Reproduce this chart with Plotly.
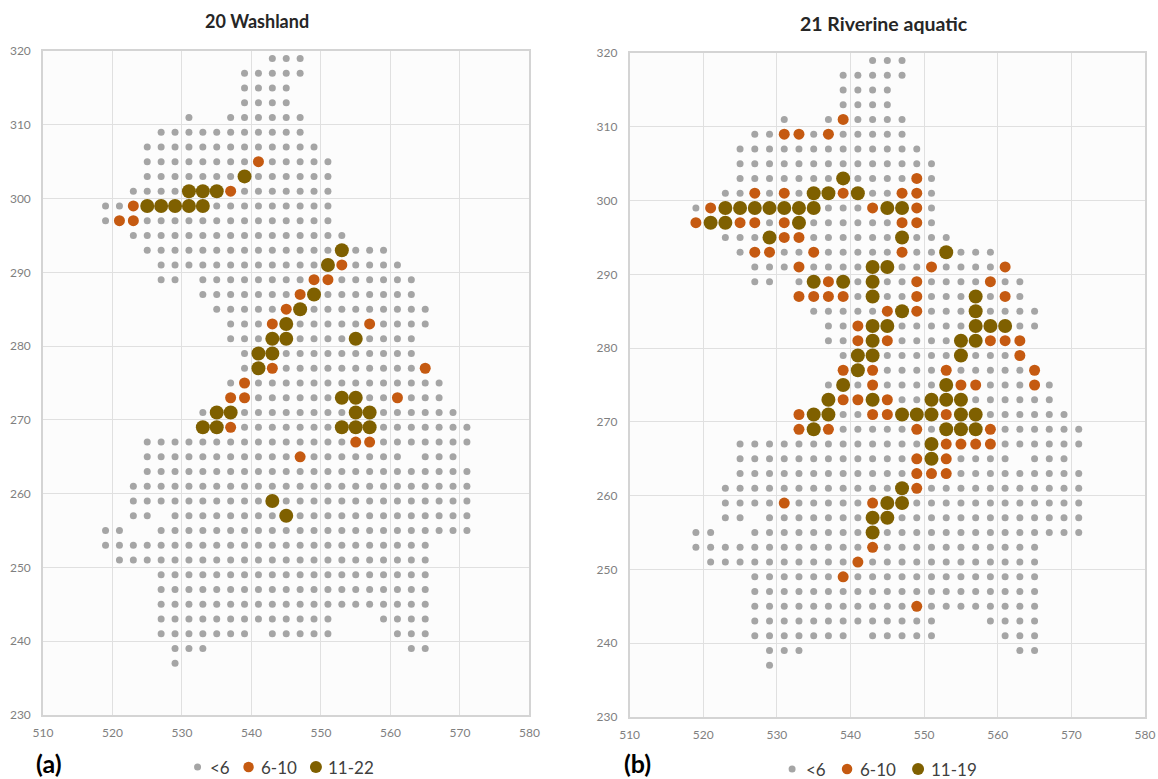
import plotly.graph_objects as go

W, H = 1158, 779

CELLS = {
319: [543,545,547],
317: [539,541,543,545,547],
315: [539,541,543,545],
313: [539,541,543,545],
311: [531,537,539,541,543,545,547],
309: [527,529,531,533,535,537,539,541,543,545,547],
307: [525,527,529,531,533,535,537,539,541,543,545,547,549],
305: [525,527,529,531,533,535,537,539,541,543,545,547,549,551],
303: [525,527,529,531,533,535,537,539,541,543,545,547,549,551],
301: [523,525,527,529,531,533,535,537,539,541,543,545,547,549,551],
299: [519,521,523,525,527,529,531,533,535,537,539,541,543,545,547,549,551],
297: [519,521,523,525,527,529,531,533,535,537,539,541,543,545,547,549,551],
295: [523,525,527,529,531,533,535,537,539,541,543,545,547,549,551,553],
293: [525,527,529,531,533,535,537,539,541,543,545,547,549,551,553,555,557,559],
291: [527,529,531,533,535,537,539,541,543,545,547,549,551,553,555,557,559,561],
289: [527,529,533,535,537,539,541,543,545,547,549,551,553,555,557,559,561,563],
287: [533,535,537,539,541,543,545,547,549,551,553,555,557,559,561,563],
285: [535,537,539,541,543,545,547,549,551,553,555,557,559,561,563,565],
283: [537,539,541,543,545,547,549,551,553,555,557,559,561,563,565],
281: [537,539,541,543,545,547,549,551,553,555,557,559,561,563],
279: [539,541,543,545,547,549,551,553,555,557,559,561,563],
277: [539,541,543,545,547,549,551,553,555,557,559,561,563,565],
275: [537,539,541,543,545,547,549,551,553,555,557,559,561,563,565,567],
273: [537,539,541,543,545,547,549,551,553,555,557,559,561,563,565,567],
271: [533,535,537,539,541,543,545,547,549,551,553,555,557,559,561,563,565,567,569],
269: [533,535,537,539,541,543,545,547,549,551,553,555,557,559,561,563,565,567,569,571],
267: [525,527,529,531,533,535,537,539,541,543,545,547,549,551,553,555,557,559,561,563,565,567,569,571],
265: [525,527,529,531,533,535,537,539,541,543,545,547,549,551,553,555,557,559,561,565,567,569],
263: [525,527,529,531,533,535,537,539,541,543,545,547,549,551,553,555,557,559,561,563,565,567,569,571],
261: [523,525,527,529,531,533,535,537,539,541,543,545,547,549,551,553,555,557,559,561,563,565,567,569,571],
259: [523,525,527,529,531,533,535,537,539,541,543,545,547,549,551,553,555,557,559,561,563,565,567,569,571],
257: [523,525,529,531,533,535,537,539,541,543,545,547,549,551,553,555,557,559,561,563,565,567,569,571],
255: [519,521,527,529,531,533,535,537,539,541,543,545,547,549,551,553,555,557,559,561,563,565,567,569,571],
253: [519,521,523,525,527,529,531,533,535,537,539,541,543,545,547,549,551,553,555,557,559,561,563,565],
251: [521,523,525,527,529,531,533,535,537,539,541,543,545,547,549,551,553,555,557,559,561,563,565],
249: [527,529,531,533,535,537,539,541,543,545,547,549,551,553,555,557,559,561,563,565],
247: [527,529,531,533,535,537,539,541,543,545,547,549,551,553,555,557,559,561,563,565],
245: [527,529,531,533,535,537,539,541,543,545,547,549,551,553,555,557,559,561,563,565],
243: [527,529,531,533,535,537,539,541,543,545,547,549,551,559,561,563,565],
241: [527,529,531,533,535,537,539,543,545,547,549,551,561,563,565],
239: [529,531,533,563,565],
237: [529],
}

MID_A = {305:[541],301:[537],299:[523],297:[521,523],291:[553],289:[549,551],287:[547],285:[545],
283:[543,557],277:[543,565],275:[539],273:[537,539,561],269:[537],267:[555,557],265:[547]}
TOP_A = {303:[539],301:[531,533,535],299:[525,527,529,531,533],293:[553],291:[551],287:[549],285:[547],
283:[545],281:[543,545,555],279:[541,543],277:[541],273:[553,555],271:[535,537,555,557],
269:[533,535,553,555,557],259:[543],257:[545]}

MID_B = {311:[539],309:[531,533,537],303:[549],301:[527,531,539,547,549],299:[521,543,549],
297:[519,525,527,531,547,549],295:[531,533],293:[527,529,535,547],291:[533,551,561],289:[537,549,559],
287:[533,535,537,539,549,561],285:[545,549],283:[541],281:[541,545,559,561,563],279:[563],
277:[539,543,553,565],275:[543,555,557,565],273:[539,541,545],271:[533,543,545,553],269:[533,537,549,559],
267:[553,555,557,559],265:[549,553],263:[549,551,553],261:[549],259:[531,543],253:[543],251:[541],249:[539],245:[549]}
TOP_B = {303:[539],301:[535,537,541],299:[523,525,527,529,531,533,535,545,547],297:[521,523,533],
295:[529,547],293:[553],291:[543,545],289:[535,539,543],287:[543,557],285:[547,557],
283:[543,545,557,559,561],281:[543,555,557],279:[541,543,555],277:[541],275:[539,553],
273:[537,543,551,553,555],271:[535,537,547,549,551,555,557],269:[535,553,555,557],267:[551],265:[551],
261:[547],259:[545,547],257:[543,545],255:[543]}

TITLE_A, TITLE_B = "20 Washland", "21 Riverine aquatic"
NAMES_A = ["<6", "6-10", "11-22"]
NAMES_B = ["<6", "6-10", "11-19"]
X_TICKS = [510,520,530,540,550,560,570,580]
Y_TICKS = [230,240,250,260,270,280,290,300,310,320]

GRAY, ORANGE, BROWN = "#a5a5a5", "#c55a11", "#7f6000"
COLORS = [GRAY, ORANGE, BROWN]
SIZES = [7, 11, 14]
FONT = "Lato"

# page layout in pixels
ML, MR, MT, MB = 42.7, 13, 51, 62
PW, PH = W - ML - MR, H - MT - MB

def px(x):
    return (x - ML) / PW

def py(y):
    return 1 - (y - MT) / PH

def flat(d):
    xs, ys = [], []
    for y, row in d.items():
        for x in row:
            xs.append(x); ys.append(y)
    return xs, ys

def gray_cells(mid, top):
    d = {}
    for y, row in CELLS.items():
        d[y] = [x for x in row if x not in mid.get(y, []) and x not in top.get(y, [])]
    return d

fig = go.Figure()
panels = [
    ("x", "y", MID_A, TOP_A, NAMES_A),
    ("x2", "y2", MID_B, TOP_B, NAMES_B),
]
for xa_, ya_, mid, top, names in panels:
    for d, col, sz, nm in zip([gray_cells(mid, top), mid, top], COLORS, SIZES, names):
        xs, ys = flat(d)
        fig.add_trace(go.Scatter(x=xs, y=ys, mode="markers", name=nm, xaxis=xa_, yaxis=ya_, showlegend=False,
                                 marker=dict(color=col, size=sz, line=dict(width=0)), hoverinfo="x+y"))

axis = dict(gridcolor="#e0e0e0", gridwidth=1.2, showline=True, linecolor="#d4d4d4", linewidth=1.5, zeroline=False,
            ticks="", tickfont=dict(family=FONT, size=12, color="#7f7f7f"), fixedrange=True, tickmode="array")

def xa(domain, anchor):
    return dict(axis, domain=domain, anchor=anchor, range=[510, 580], tickvals=X_TICKS, mirror=True, ticklabelstandoff=6)

def ya(domain, anchor):
    return dict(axis, domain=domain, anchor=anchor, range=[230, 320], tickvals=Y_TICKS, mirror=True, ticklabelstandoff=8)

def ann(text, x, y, size, bold=True, color="#262626", anchor="center"):
    return dict(text=f"<b>{text}</b>" if bold else text, x=px(x), y=py(y), xref="paper", yref="paper",
                showarrow=False, xanchor=anchor, yanchor="middle", font=dict(family=FONT, size=size, color=color))

# hand-placed legend rows: key dot centre, text start, row centre (pixels)
KEY_SIZES = [7, 10.5, 12]
LEGENDS = [
    (NAMES_A, [197.3, 248.3, 315.7], [208, 259, 326], 767),
    (NAMES_B, [792, 847, 918], [804, 858, 929], 769),
]
shapes, annotations = [], []
for names, dots, starts, yrow in LEGENDS:
    for nm, dot, start, col, ks in zip(names, dots, starts, COLORS, KEY_SIZES):
        shapes.append(dict(type="circle", xref="paper", yref="paper", line=dict(width=0), fillcolor=col,
                           x0=px(dot - ks / 2), x1=px(dot + ks / 2), y0=py(yrow + ks / 2), y1=py(yrow - ks / 2)))
        annotations.append(ann(nm, start, yrow, 17, bold=False, color="#404040", anchor="left"))

annotations += [
    ann(TITLE_A, 257, 21, 18),
    ann(TITLE_B, 884, 23, 19.5),
    ann("(a)", 49, 763, 25, color="black"),
    ann("(b)", 637, 763, 25, color="black"),
]

fig.update_layout(
    width=W, height=H, margin=dict(l=ML, r=MR, t=MT, b=MB, pad=0, autoexpand=False), paper_bgcolor="white", plot_bgcolor="#fcfcfc",
    showlegend=False, font=dict(family=FONT),
    xaxis=xa([0, px(529.3)], "y"),
    yaxis=ya([py(715), 1], "x"),
    xaxis2=xa([px(629.5), 1], "y2"),
    yaxis2=ya([0, py(53)], "x2"),
    shapes=shapes,
    annotations=annotations,
)
fig.write_html("out.html", config=dict(displayModeBar=False), post_script="document.body.style.margin='0';document.documentElement.style.overflow='hidden';")
